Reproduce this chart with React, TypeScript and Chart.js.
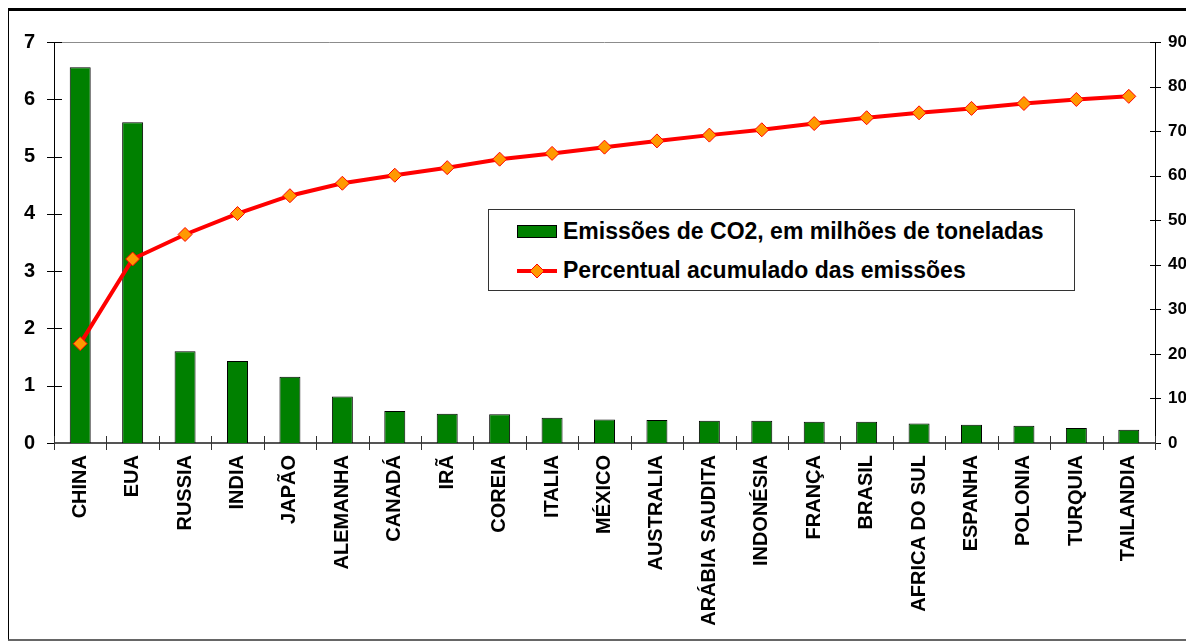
import React, { useEffect, useRef } from "react";
import { Chart, registerables } from "chart.js";

Chart.register(...registerables);

const countries = [
  "CHINA", "EUA", "RUSSIA", "INDIA", "JAPÃO", "ALEMANHA", "CANADÁ", "IRÃ",
  "COREIA", "ITALIA", "MÉXICO", "AUSTRALIA", "ARÁBIA SAUDITA", "INDONÉSIA",
  "FRANÇA", "BRASIL", "AFRICA DO SUL", "ESPANHA", "POLONIA", "TURQUIA", "TAILANDIA",
];
const emissions = [
  6.56, 5.6, 1.6, 1.43, 1.155, 0.81, 0.56, 0.51, 0.5, 0.44, 0.41,
  0.4, 0.39, 0.39, 0.37, 0.37, 0.34, 0.32, 0.3, 0.26, 0.23,
];
const cumulativePercent = [
  22.3, 41.3, 46.8, 51.5, 55.5, 58.3, 60.1, 61.8, 63.7, 65.0, 66.4,
  67.8, 69.1, 70.3, 71.7, 73.0, 74.1, 75.1, 76.2, 77.1, 77.8,
];
const barLabel = "Emissões de CO2, em milhões de toneladas";
const lineLabel = "Percentual acumulado das emissões";

const FONT = "'Liberation Sans', Arial, sans-serif";

const axesPlugin = {
  id: "customAxes",
  beforeDatasetsDraw(chart: any) {
    const { ctx, chartArea, scales } = chart;
    const { left, right, top, bottom } = chartArea;
    const x = scales.x;
    const y = scales.y;
    const y2 = scales.y2;
    ctx.save();
    // top border line (gray)
    ctx.strokeStyle = "#8c8c8c";
    ctx.lineWidth = 1;
    ctx.beginPath();
    ctx.moveTo(left, top + 0.5);
    ctx.lineTo(right, top + 0.5);
    ctx.stroke();
    // left axis
    ctx.strokeStyle = "#000";
    ctx.beginPath();
    ctx.moveTo(Math.round(left) + 0.5, top);
    ctx.lineTo(Math.round(left) + 0.5, bottom);
    ctx.stroke();
    // right axis
    ctx.beginPath();
    ctx.moveTo(Math.round(right) + 0.5, top);
    ctx.lineTo(Math.round(right) + 0.5, bottom + 6);
    ctx.stroke();
    // left ticks
    y.ticks.forEach((t: any) => {
      const py = Math.round(y.getPixelForValue(t.value)) + 0.5;
      ctx.beginPath();
      ctx.moveTo(left - 7, py);
      ctx.lineTo(left + 8, py);
      ctx.stroke();
    });
    // right ticks
    y2.ticks.forEach((t: any) => {
      const py = Math.round(y2.getPixelForValue(t.value)) + 0.5;
      ctx.beginPath();
      ctx.moveTo(right - 5, py);
      ctx.lineTo(right + 6, py);
      ctx.stroke();
    });
    // x axis line
    ctx.strokeStyle = "#555";
    ctx.lineWidth = 2;
    ctx.beginPath();
    ctx.moveTo(left, bottom);
    ctx.lineTo(right, bottom);
    ctx.stroke();
    // x ticks at category boundaries
    ctx.lineWidth = 1;
    ctx.strokeStyle = "#333";
    const n = countries.length;
    for (let i = 0; i <= n; i++) {
      const px =
        i < n
          ? x.getPixelForValue(i) - (x.getPixelForValue(1) - x.getPixelForValue(0)) / 2
          : right;
      const rx = Math.round(px) + 0.5;
      ctx.beginPath();
      ctx.moveTo(rx, bottom - 7);
      ctx.lineTo(rx, bottom + 7);
      ctx.stroke();
    }
    ctx.restore();
  },
};

export default function App() {
  const canvasRef = useRef<HTMLCanvasElement | null>(null);

  useEffect(() => {
    if (!canvasRef.current) return;
    const chart = new Chart(canvasRef.current, {
      type: "bar",
      data: {
        labels: countries,
        datasets: [
          {
            type: "line",
            label: lineLabel,
            data: cumulativePercent,
            yAxisID: "y2",
            borderColor: "#ff0000",
            borderWidth: 4,
            pointStyle: "rectRot",
            pointRadius: 7,
            pointBackgroundColor: "#ff9900",
            pointBorderColor: "#ff0000",
            pointBorderWidth: 1,
            tension: 0,
            order: 0,
          } as any,
          {
            type: "bar",
            label: barLabel,
            data: emissions,
            yAxisID: "y",
            backgroundColor: "#008000",
            borderColor: "#000000",
            borderWidth: 1,
            categoryPercentage: 1,
            barPercentage: 0.4,
            order: 1,
          },
        ],
      },
      options: {
        animation: false,
        responsive: false,
        maintainAspectRatio: false,
        layout: { padding: { top: 26, left: 0, right: 0, bottom: 0 } },
        plugins: {
          legend: { display: false },
          tooltip: { enabled: false },
        },
        scales: {
          x: {
            offset: true,
            grid: { display: false, drawTicks: false },
            border: { display: false },
            ticks: {
              autoSkip: false,
              maxRotation: 90,
              minRotation: 90,
              padding: 12,
              color: "#000",
              font: { family: FONT, size: 20, weight: "bold" },
            },
            afterFit(scale: any) {
              scale.height = 196;
            },
          },
          y: {
            position: "left",
            min: 0,
            max: 7,
            grid: { display: false, drawTicks: false },
            border: { display: false },
            ticks: {
              stepSize: 1,
              padding: 19,
              color: "#000",
              font: { family: FONT, size: 20, weight: "bold" },
            },
            afterFit(scale: any) {
              scale.width = 45;
            },
          },
          y2: {
            position: "right",
            min: 0,
            max: 90,
            grid: { display: false, drawTicks: false },
            border: { display: false },
            ticks: {
              stepSize: 10,
              padding: 13,
              color: "#000",
              font: { family: FONT, size: 17, weight: "bold" },
            },
            afterFit(scale: any) {
              scale.width = 34;
            },
          },
        },
      } as any,
      plugins: [axesPlugin],
    });
    return () => chart.destroy();
  }, []);

  const legendText: React.CSSProperties = {
    fontFamily: FONT,
    fontWeight: "bold",
    fontSize: 23,
    color: "#000",
    whiteSpace: "nowrap",
    lineHeight: "26px",
  };

  return (
    <div
      style={{
        position: "relative",
        marginLeft: -2,
        width: 1180,
        height: 628,
        borderTop: "3px solid #000",
        borderLeft: "3px solid #000",
        borderRight: "2px solid #000",
        borderBottom: "2px solid #666",
        background: "#fff",
      }}
    >
      <canvas ref={canvasRef} width={1180} height={628} style={{ display: "block" }} />
      <div
        style={{
          position: "absolute",
          left: 479,
          top: 198,
          width: 585,
          height: 80,
          border: "1px solid #333",
          background: "#fff",
        }}
      >
        <div style={{ position: "absolute", left: 28, top: 15, width: 38, height: 11, background: "#008000", border: "1px solid #000" }} />
        <div style={{ ...legendText, position: "absolute", left: 74, top: 8 }}>{barLabel}</div>
        <svg style={{ position: "absolute", left: 28, top: 51 }} width={42} height={20}>
          <line x1={0} y1={10} x2={40} y2={10} stroke="#ff0000" strokeWidth={4} />
          <polygon points="20,3 27,10 20,17 13,10" fill="#ff9900" stroke="#ff0000" strokeWidth={1} />
        </svg>
        <div style={{ ...legendText, position: "absolute", left: 74, top: 47 }}>{lineLabel}</div>
      </div>
    </div>
  );
}
